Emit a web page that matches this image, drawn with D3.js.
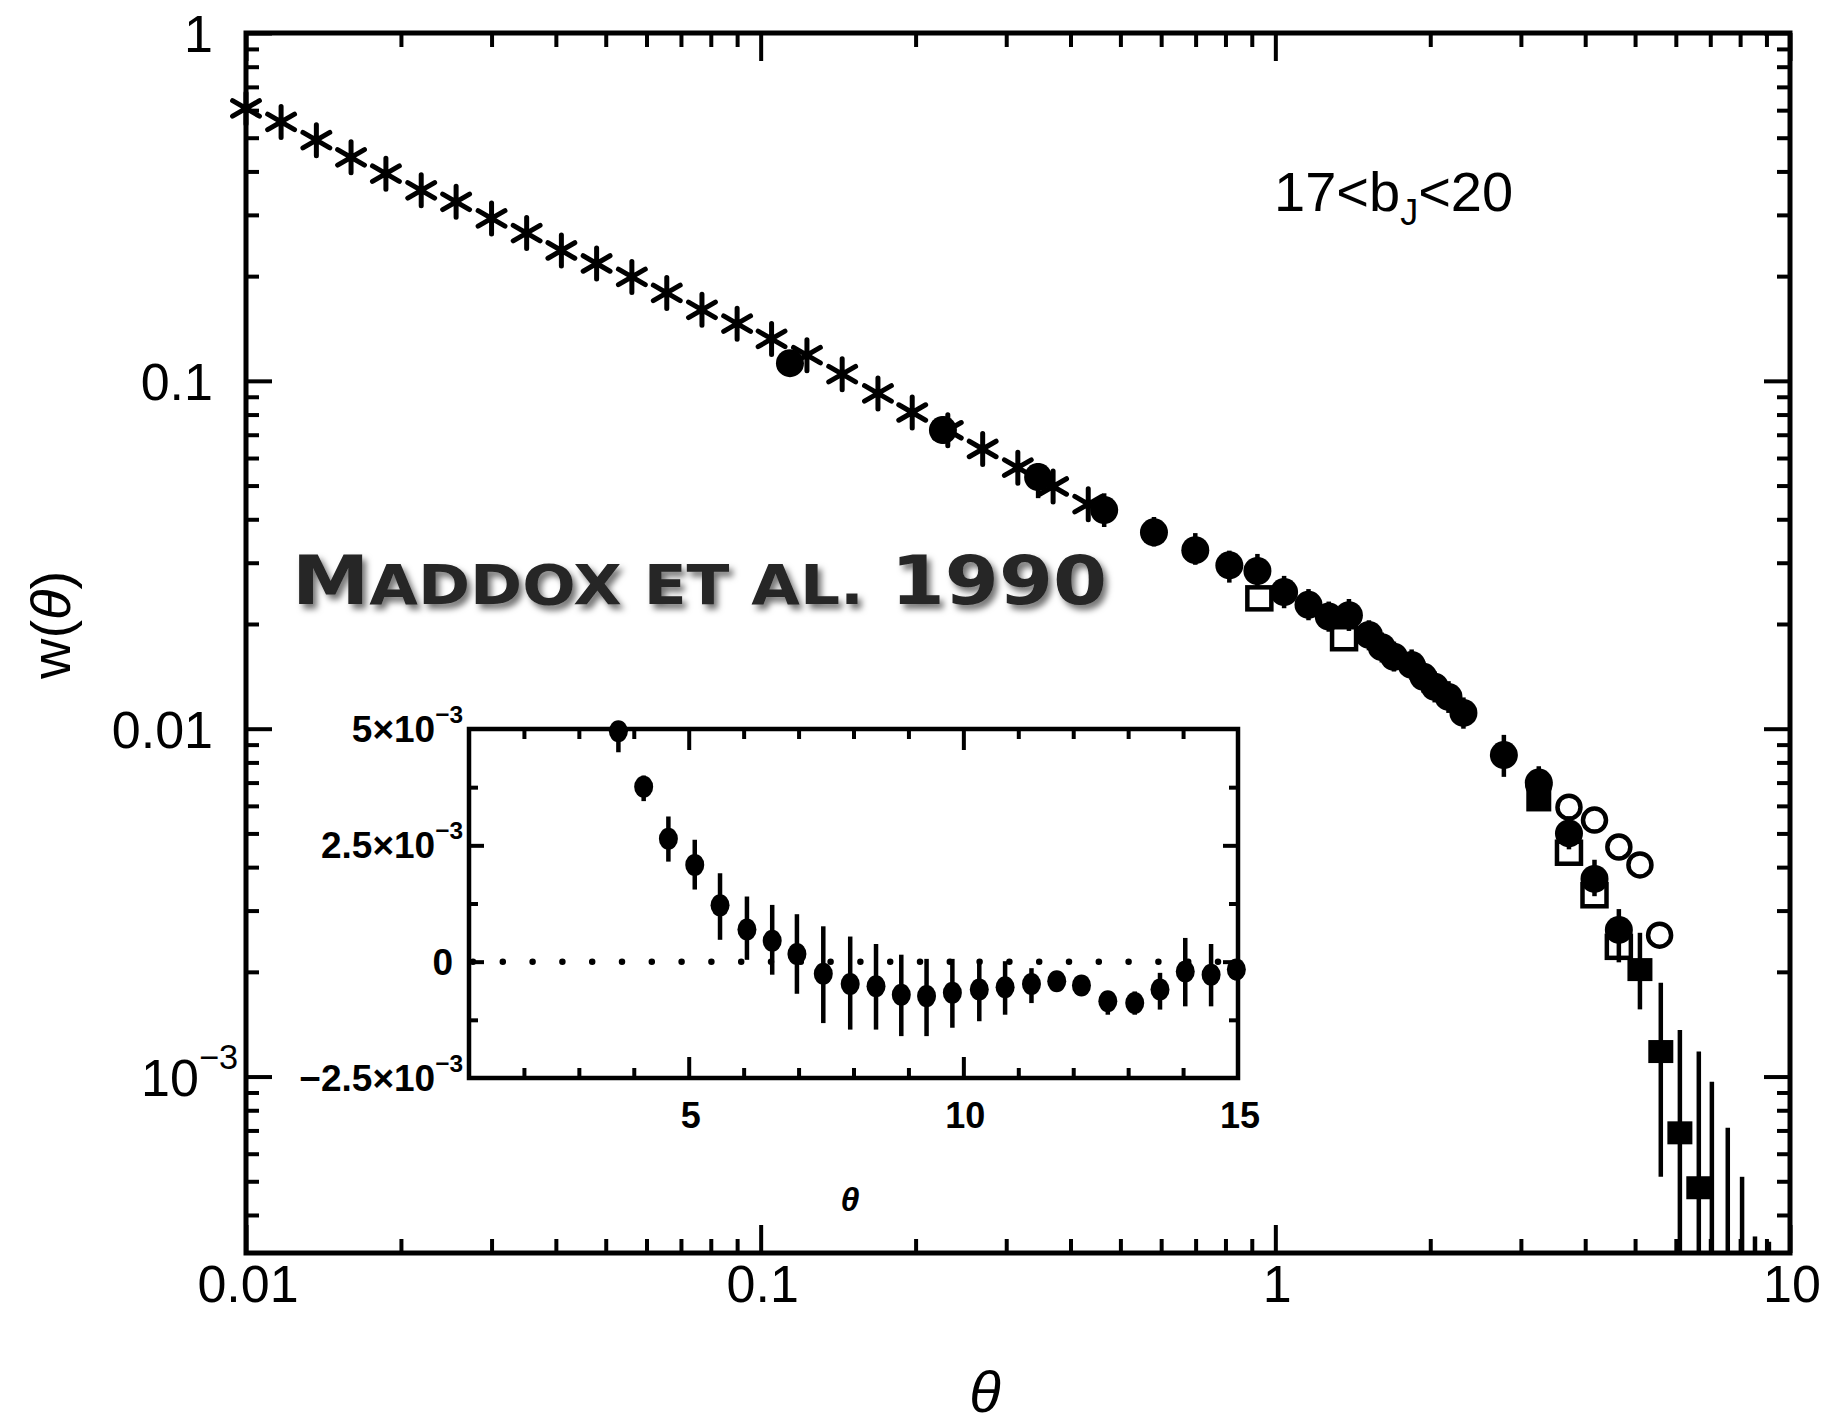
<!DOCTYPE html>
<html>
<head>
<meta charset="utf-8">
<script src="https://cdn.jsdelivr.net/npm/d3@7"></script>
<style>
  body { margin: 0; background: #fff; }
  svg { display: block; }
</style>
</head>
<body>
<div id="chart"></div>
<script>
// angular correlation function w(theta)
const starTheta = [0.0100, 0.0117, 0.0137, 0.0160, 0.0187, 0.0219, 0.0256, 0.0300, 0.0351, 0.0410, 0.0480, 0.0562, 0.0657,
                   0.0769, 0.0900, 0.105, 0.123, 0.144, 0.169, 0.197, 0.231, 0.270, 0.316, 0.370, 0.433];
const starW = [0.607, 0.555, 0.492, 0.439, 0.394, 0.353, 0.327, 0.293, 0.266, 0.237, 0.2175, 0.199, 0.179,
               0.160, 0.146, 0.132, 0.1185, 0.1045, 0.092, 0.0811, 0.0721, 0.0637, 0.0563, 0.0497, 0.0442];

const circTheta = [0.114, 0.226, 0.346, 0.465, 0.581, 0.699, 0.814, 0.923, 1.04, 1.16, 1.27, 1.39, 1.52,
                   1.61, 1.70, 1.84, 1.94, 2.04, 2.17, 2.32, 2.78, 3.25, 3.72, 4.17, 4.65];
const circW = [0.1124, 0.0722, 0.0529, 0.0425, 0.0367, 0.0326, 0.0295, 0.0284, 0.0247, 0.0227, 0.0210, 0.0212, 0.0186,
               0.01715, 0.0161, 0.01525, 0.0141, 0.0132, 0.01234, 0.0111, 0.0084, 0.0070, 0.0050, 0.0037, 0.00264];
const circLo = [0.107, 0.066, 0.046, 0.038, 0.0334, 0.0296, 0.0263, 0.0254, 0.0222, 0.0205, 0.0190, 0.0191, 0.0168,
                0.0155, 0.0146, 0.0138, 0.0127, 0.0119, 0.0111, 0.0100, 0.00727, 0.0063, 0.0045, 0.0033, 0.00213];
const circHi = [0.118, 0.079, 0.058, 0.0475, 0.0406, 0.0365, 0.0325, 0.0318, 0.0275, 0.0252, 0.0232, 0.0236, 0.0205,
                0.0189, 0.0178, 0.0169, 0.0156, 0.0146, 0.0137, 0.0123, 0.0096, 0.0078, 0.0056, 0.0042, 0.00303];

const openSqTheta = [0.931, 1.36, 3.72, 4.17, 4.65];
const openSqW = [0.0237, 0.0182, 0.0044, 0.00332, 0.00236];

const openCircTheta = [3.25, 3.72, 4.17, 4.65, 5.11, 5.58];
const openCircW = [0.0069, 0.00595, 0.00546, 0.00457, 0.00406, 0.00255];

// null value = point below the plotted range, null lower bound = bar runs off the bottom
const fillSqTheta = [3.25, 5.11, 5.61, 6.11, 6.65, 7.05, 7.57, 8.07, 8.55, 9.10];
const fillSqW = [0.00624, 0.00203, 0.00118, 0.000689, 0.000479, null, null, null, null, null];
const fillSqLo = [0.0059, 0.00156, 0.000515, null, null, null, null, null, null, null];
const fillSqHi = [0.0066, 0.00259, 0.00186, 0.00136, 0.00118, 0.000966, 0.000713, 0.000515, 0.000347, 0.000335];

const xTickValues = [0.01, 0.1, 1, 10];
const xTickLabels = ['0.01', '0.1', '1', '10'];
const yTickValues = [1, 0.1, 0.01, 0.001];
const yTickLabels = ['1', '0.1', '0.01', '10^-3'];

// inset: linear w(theta) at large separations (units of 1e-3)
const insetTheta = [3.72, 4.18, 4.63, 5.11, 5.57, 6.06, 6.52, 6.97, 7.45, 7.94, 8.41, 8.87, 9.33,
                    9.80, 10.29, 10.76, 11.24, 11.70, 12.15, 12.63, 13.12, 13.58, 14.04, 14.51, 14.97];
const insetW = [4.95, 3.76, 2.64, 2.08, 1.21, 0.69, 0.45, 0.165, -0.26, -0.48, -0.53, -0.71, -0.74,
                -0.67, -0.60, -0.55, -0.48, -0.42, -0.51, -0.85, -0.89, -0.60, -0.21, -0.28, -0.17];
const insetHi = [5.15, 4.0, 3.12, 2.62, 1.90, 1.40, 1.22, 1.02, 0.76, 0.54, 0.38, 0.15, 0.06,
                 0.06, 0.01, 0.01, -0.14, -0.25, -0.32, -0.64, -0.64, -0.24, 0.51, 0.38, 0.05];
const insetLo = [4.5, 3.45, 2.15, 1.55, 0.47, 0.04, -0.28, -0.69, -1.32, -1.46, -1.46, -1.60, -1.60,
                 -1.42, -1.28, -1.14, -0.89, -0.62, -0.72, -1.14, -1.14, -1.03, -0.96, -0.96, -0.40];
const insetXTickValues = [5, 10, 15];
const insetYTickValues = [5, 2.5, 0, -2.5];
const insetYTickLabels = ['5\u00d710^-3', '2.5\u00d710^-3', '0', '\u22122.5\u00d710^-3'];

window.WThetaChart = {
    width: 1831,
    height: 1423,
    frame: { left: 246, right: 1790, top: 33, bottom: 1253 },
    inset: { left: 469, right: 1238, top: 729, bottom: 1078 },

    create() {
        const container = d3.select('#chart');
        container.selectAll('*').remove();

        const svg = container.append('svg')
            .attr('width', this.width)
            .attr('height', this.height)
            .style('font-family', '"Liberation Sans", Arial, sans-serif');

        svg.append('rect').attr('width', this.width).attr('height', this.height).attr('fill', '#fff');
        this.createDefs(svg);

        const scales = this.createScales();
        this.createAxes(svg, scales);
        this.createPoints(svg, scales);
        this.createInset(svg);
        this.createLabels(svg);
    },

    createDefs(svg) {
        const f = this.frame;
        const defs = svg.append('defs');
        defs.append('clipPath').attr('id', 'plot-clip')
            .append('rect').attr('x', f.left - 20).attr('y', f.top)
            .attr('width', f.right - f.left + 20).attr('height', f.bottom - f.top);
        defs.append('filter').attr('id', 'shadow').attr('x', '-5%').attr('y', '-20%').attr('width', '115%').attr('height', '160%')
            .append('feDropShadow').attr('dx', 4).attr('dy', 5).attr('stdDeviation', 3)
            .attr('flood-color', '#000').attr('flood-opacity', 0.55);
    },

    createScales() {
        const f = this.frame;
        const x = d3.scaleLog().domain([0.01, 10]).range([f.left, f.right]);
        const y = d3.scaleLog().domain([3.11e-4, 1]).range([f.bottom, f.top]);
        return { x, y };
    },

    starPath(r) {
        const p = d3.path();
        [90, 30, -30].forEach(a => {
            const dx = r * Math.cos(a * Math.PI / 180);
            const dy = r * Math.sin(a * Math.PI / 180);
            p.moveTo(-dx, -dy);
            p.lineTo(dx, dy);
        });
        return p.toString();
    },

    createPoints(svg, s) {
        const f = this.frame;
        const g = svg.append('g').attr('clip-path', 'url(#plot-clip)');
        const yBar = v => v == null ? f.bottom + 4 : s.y(v);

        // open squares
        const osq = openSqTheta.map((t, i) => ({ t, w: openSqW[i] }));
        g.selectAll('.osq').data(osq).enter().append('rect')
            .attr('x', d => s.x(d.t) - 12).attr('y', d => s.y(d.w) - 11)
            .attr('width', 24).attr('height', 22)
            .attr('fill', 'none').attr('stroke', '#000').attr('stroke-width', 4.5);

        // filled squares with error bars
        const fsq = fillSqTheta.map((t, i) => ({ t, w: fillSqW[i], lo: fillSqLo[i], hi: fillSqHi[i] }));
        g.selectAll('.fsq-err').data(fsq).enter().append('line')
            .attr('x1', d => s.x(d.t)).attr('x2', d => s.x(d.t))
            .attr('y1', d => yBar(d.lo)).attr('y2', d => s.y(d.hi))
            .attr('stroke', '#000').attr('stroke-width', 4.5);
        g.selectAll('.fsq').data(fsq.filter(d => d.w != null)).enter().append('rect')
            .attr('x', d => s.x(d.t) - 12.5).attr('y', d => s.y(d.w) - 11.5)
            .attr('width', 25).attr('height', 23).attr('fill', '#000');

        // filled circles with error bars
        const circ = circTheta.map((t, i) => ({ t, w: circW[i], lo: circLo[i], hi: circHi[i] }));
        g.selectAll('.circ-err').data(circ).enter().append('line')
            .attr('x1', d => s.x(d.t)).attr('x2', d => s.x(d.t))
            .attr('y1', d => s.y(d.lo)).attr('y2', d => s.y(d.hi))
            .attr('stroke', '#000').attr('stroke-width', 4.5);
        g.selectAll('.circ').data(circ).enter().append('circle')
            .attr('cx', d => s.x(d.t)).attr('cy', d => s.y(d.w)).attr('r', 14)
            .attr('fill', '#000');

        // open circles
        const oc = openCircTheta.map((t, i) => ({ t, w: openCircW[i] }));
        g.selectAll('.oc').data(oc).enter().append('circle')
            .attr('cx', d => s.x(d.t)).attr('cy', d => s.y(d.w)).attr('r', 11.5)
            .attr('fill', 'none').attr('stroke', '#000').attr('stroke-width', 4.5);

        // asterisks
        const stars = starTheta.map((t, i) => ({ t, w: starW[i] }));
        const star = this.starPath(15.5);
        g.selectAll('.star').data(stars).enter().append('path')
            .attr('transform', d => `translate(${s.x(d.t)},${s.y(d.w)})`)
            .attr('d', star)
            .attr('fill', 'none').attr('stroke', '#000').attr('stroke-width', 5)
            .attr('stroke-linecap', 'round');
    },

    createAxes(svg, s) {
        const f = this.frame;
        const isDecade = d => Math.abs(Math.log10(d) - Math.round(Math.log10(d))) < 1e-9;
        const xMajor = s.x.ticks().filter(isDecade);
        const xMinor = s.x.ticks().filter(d => !isDecade(d));
        const yMajor = s.y.ticks().filter(isDecade);
        const yMinor = s.y.ticks().filter(d => !isDecade(d));

        const addAxis = (axisFn, scale, values, size, transform) => {
            svg.append('g').attr('transform', transform)
                .call(axisFn(scale).tickValues(values).tickSize(size).tickFormat(''))
                .call(g => g.select('.domain').remove())
                .call(g => g.selectAll('line').attr('stroke', '#000').attr('stroke-width', 4));
        };

        addAxis(d3.axisBottom, s.x, xMajor, -28, `translate(0,${f.bottom})`);
        addAxis(d3.axisBottom, s.x, xMinor, -14, `translate(0,${f.bottom})`);
        addAxis(d3.axisTop, s.x, xMajor, -28, `translate(0,${f.top})`);
        addAxis(d3.axisTop, s.x, xMinor, -14, `translate(0,${f.top})`);
        addAxis(d3.axisLeft, s.y, yMajor, -26, `translate(${f.left},0)`);
        addAxis(d3.axisLeft, s.y, yMinor, -13, `translate(${f.left},0)`);
        addAxis(d3.axisRight, s.y, yMajor, -26, `translate(${f.right},0)`);
        addAxis(d3.axisRight, s.y, yMinor, -13, `translate(${f.right},0)`);

        svg.append('rect')
            .attr('x', f.left).attr('y', f.top)
            .attr('width', f.right - f.left).attr('height', f.bottom - f.top)
            .attr('fill', 'none').attr('stroke', '#000').attr('stroke-width', 5);

        // tick labels
        svg.append('g').selectAll('text').data(xTickValues).enter().append('text')
            .attr('x', d => s.x(d) + 2).attr('y', f.bottom + 49)
            .attr('text-anchor', 'middle').attr('font-size', 52)
            .text((d, i) => xTickLabels[i]);

        const yl = svg.append('g');
        yTickValues.forEach((v, i) => {
            const label = yTickLabels[i];
            const t = yl.append('text')
                .attr('x', label.includes('^') ? f.left - 8 : f.left - 33)
                .attr('y', s.y(v) + 19)
                .attr('text-anchor', 'end').attr('font-size', 52);
            this.appendPowerText(t, label, 52);
        });
    },

    appendPowerText(text, label, size) {
        const parts = label.split('^');
        text.append('tspan').text(parts[0]);
        if (parts[1]) {
            text.append('tspan').attr('dy', -0.52 * size).attr('font-size', size * 0.66)
                .text(parts[1].replace('-', '\u2212'));
        }
    },

    createInset(svg) {
        const b = this.inset;
        const x = d3.scaleLinear().domain([1, 15]).range([b.left, b.right]);
        const y = d3.scaleLinear().domain([-2.5, 5]).range([b.bottom, b.top]);
        const g = svg.append('g');

        g.append('rect').attr('x', b.left).attr('y', b.top)
            .attr('width', b.right - b.left).attr('height', b.bottom - b.top)
            .attr('fill', '#fff');

        // dotted zero line
        g.append('line')
            .attr('x1', b.left + 4).attr('x2', b.right).attr('y1', y(0)).attr('y2', y(0))
            .attr('stroke', '#000').attr('stroke-width', 6.5)
            .attr('stroke-linecap', 'round').attr('stroke-dasharray', '0 29.8');

        const xTicks = d3.range(2, 15);
        const yTicks = d3.range(-1.25, 5, 1.25);
        const isMajorX = d => d % 5 === 0;
        const isMajorY = d => Math.abs(d / 2.5 - Math.round(d / 2.5)) < 1e-9;
        const addAxis = (axisFn, scale, values, size, transform) => {
            g.append('g').attr('transform', transform)
                .call(axisFn(scale).tickValues(values).tickSize(size).tickFormat(''))
                .call(a => a.select('.domain').remove())
                .call(a => a.selectAll('line').attr('stroke', '#000').attr('stroke-width', 4));
        };
        addAxis(d3.axisBottom, x, xTicks.filter(isMajorX), -21, `translate(0,${b.bottom})`);
        addAxis(d3.axisBottom, x, xTicks.filter(d => !isMajorX(d)), -10, `translate(0,${b.bottom})`);
        addAxis(d3.axisTop, x, xTicks.filter(isMajorX), -21, `translate(0,${b.top})`);
        addAxis(d3.axisTop, x, xTicks.filter(d => !isMajorX(d)), -10, `translate(0,${b.top})`);
        addAxis(d3.axisLeft, y, yTicks.filter(isMajorY), -15, `translate(${b.left},0)`);
        addAxis(d3.axisLeft, y, yTicks.filter(d => !isMajorY(d)), -9, `translate(${b.left},0)`);
        addAxis(d3.axisRight, y, yTicks.filter(isMajorY), -15, `translate(${b.right},0)`);
        addAxis(d3.axisRight, y, yTicks.filter(d => !isMajorY(d)), -9, `translate(${b.right},0)`);

        g.append('rect').attr('x', b.left).attr('y', b.top)
            .attr('width', b.right - b.left).attr('height', b.bottom - b.top)
            .attr('fill', 'none').attr('stroke', '#000').attr('stroke-width', 4.5);

        const pts = insetTheta.map((t, i) => ({ t, w: insetW[i], lo: insetLo[i], hi: insetHi[i] }));
        g.selectAll('.ierr').data(pts).enter().append('line')
            .attr('x1', d => x(d.t)).attr('x2', d => x(d.t))
            .attr('y1', d => y(d.lo)).attr('y2', d => y(d.hi))
            .attr('stroke', '#000').attr('stroke-width', 4.5);
        g.selectAll('.ipt').data(pts).enter().append('ellipse')
            .attr('cx', d => x(d.t)).attr('cy', d => y(d.w))
            .attr('rx', 9.5).attr('ry', 11)
            .attr('fill', '#000');

        // inset tick labels
        g.selectAll('.ixl').data(insetXTickValues).enter().append('text')
            .attr('x', d => x(d) + 2).attr('y', b.bottom + 50)
            .attr('text-anchor', 'middle').attr('font-size', 36).attr('font-weight', 'bold')
            .text(d => d);

        insetYTickValues.forEach((v, i) => {
            const label = insetYTickLabels[i];
            const t = g.append('text')
                .attr('x', label.includes('^') ? b.left - 6 : b.left - 16)
                .attr('y', y(v) + 13)
                .attr('text-anchor', 'end').attr('font-size', 37).attr('font-weight', 'bold');
            this.appendPowerText(t, label, 37);
        });

        g.append('text')
            .attr('x', 850).attr('y', b.bottom + 133)
            .attr('text-anchor', 'middle').attr('font-size', 34)
            .attr('font-weight', 'bold').attr('font-style', 'italic')
            .text('\u03b8');
    },

    createLabels(svg) {
        const f = this.frame;

        // axis titles
        svg.append('text')
            .attr('x', 985).attr('y', 1412)
            .attr('text-anchor', 'middle').attr('font-size', 58).attr('font-style', 'italic')
            .text('\u03b8');

        const yt = svg.append('text')
            .attr('transform', `translate(70, 625) rotate(-90)`)
            .attr('text-anchor', 'middle').attr('font-size', 56);
        yt.append('tspan').text('w(');
        yt.append('tspan').attr('font-style', 'italic').text('\u03b8');
        yt.append('tspan').text(')');

        // magnitude range
        const mag = svg.append('text')
            .attr('x', f.left + 1028).attr('y', 211)
            .attr('font-size', 56);
        mag.append('tspan').text('17<b');
        mag.append('tspan').attr('font-size', 36).attr('dy', 14).text('J');
        mag.append('tspan').attr('dy', -14).text('<20');

        // overlaid reference label
        const big = 68, small = 55;
        const ref = svg.append('text')
            .attr('x', 292).attr('y', 604)
            .attr('fill', '#252525')
            .attr('font-family', '"DejaVu Sans", sans-serif')
            .attr('font-weight', 'bold')
            .attr('textLength', 815).attr('lengthAdjust', 'spacingAndGlyphs')
            .attr('filter', 'url(#shadow)');
        [['M', big], ['ADDOX ET AL.', small], [' 1990', big]]
            .forEach(([txt, size]) => ref.append('tspan').attr('font-size', size).text(txt));
    }
};

WThetaChart.create();
</script>
</body>
</html>
